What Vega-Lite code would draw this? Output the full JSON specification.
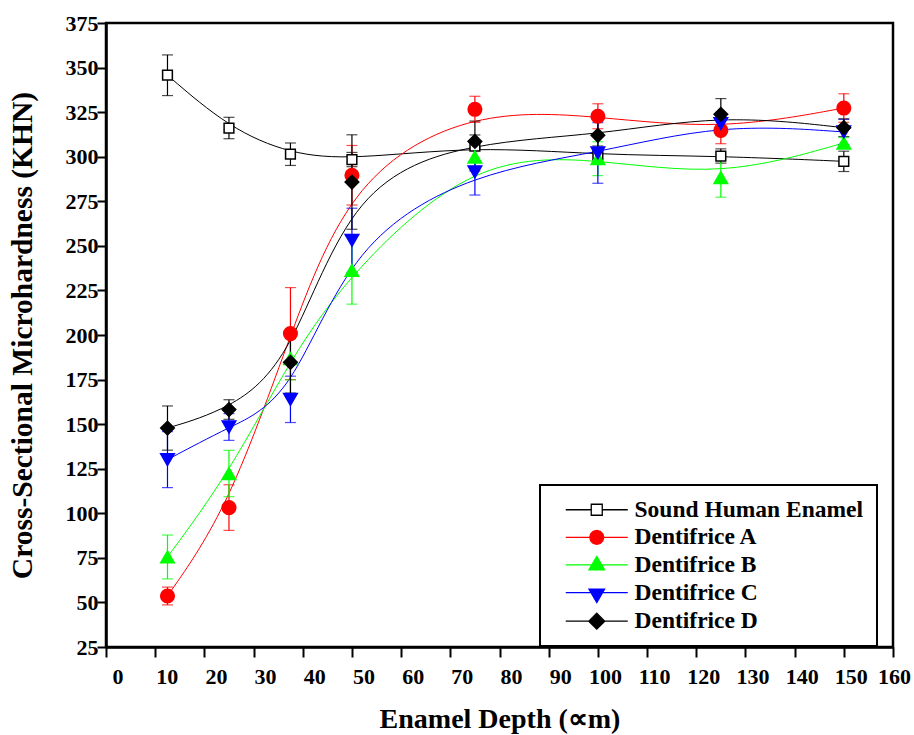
{
  "$schema": "https://vega.github.io/schema/vega-lite/v6.json",
  "width": 787,
  "height": 624,
  "autosize": "none",
  "padding": {"left": 106, "top": 23, "right": 21, "bottom": 88},
  "background": "white",
  "config": {
    "font": "Liberation Serif",
    "view": {"stroke": "black", "strokeWidth": 2.5},
    "legend": {"strokeWidth": 2},
    "axis": {
      "grid": false,
      "domainColor": "black",
      "domainWidth": 2.5,
      "tickColor": "black",
      "tickWidth": 2,
      "labelColor": "black",
      "labelFont": "Liberation Serif",
      "labelFontWeight": "bold",
      "titleFont": "Liberation Serif",
      "titleFontWeight": "bold",
      "titleColor": "black",
      "labelFlush": false,
      "labelOverlap": false
    }
  },
  "data": {
    "values": [
      {"depth": 12.5, "series": "Sound Human Enamel", "khn": 345.7, "sd": 11.4},
      {"depth": 25, "series": "Sound Human Enamel", "khn": 316.1, "sd": 6},
      {"depth": 37.5, "series": "Sound Human Enamel", "khn": 301.4, "sd": 6.3},
      {"depth": 50, "series": "Sound Human Enamel", "khn": 298.4, "sd": 4},
      {"depth": 75, "series": "Sound Human Enamel", "khn": 306, "sd": 14},
      {"depth": 100, "series": "Sound Human Enamel", "khn": 301, "sd": 5},
      {"depth": 125, "series": "Sound Human Enamel", "khn": 300.4, "sd": 4},
      {"depth": 150, "series": "Sound Human Enamel", "khn": 297.4, "sd": 5.7},
      {"depth": 12.5, "series": "Dentifrice A", "khn": 53.6, "sd": 5},
      {"depth": 25, "series": "Dentifrice A", "khn": 103.2, "sd": 12.8},
      {"depth": 37.5, "series": "Dentifrice A", "khn": 200.8, "sd": 25.8},
      {"depth": 50, "series": "Dentifrice A", "khn": 289.6, "sd": 16.7},
      {"depth": 75, "series": "Dentifrice A", "khn": 326.6, "sd": 7.3},
      {"depth": 100, "series": "Dentifrice A", "khn": 322.7, "sd": 7},
      {"depth": 125, "series": "Dentifrice A", "khn": 314.8, "sd": 7.5},
      {"depth": 150, "series": "Dentifrice A", "khn": 327.3, "sd": 8},
      {"depth": 12.5, "series": "Dentifrice B", "khn": 75.5, "sd": 12.3},
      {"depth": 25, "series": "Dentifrice B", "khn": 122.3, "sd": 13},
      {"depth": 37.5, "series": "Dentifrice B", "khn": 186.8, "sd": 12},
      {"depth": 50, "series": "Dentifrice B", "khn": 236.3, "sd": 19},
      {"depth": 75, "series": "Dentifrice B", "khn": 299.8, "sd": 5},
      {"depth": 100, "series": "Dentifrice B", "khn": 298.9, "sd": 9.5},
      {"depth": 125, "series": "Dentifrice B", "khn": 288.3, "sd": 11},
      {"depth": 150, "series": "Dentifrice B", "khn": 307.7, "sd": 3},
      {"depth": 12.5, "series": "Dentifrice C", "khn": 130.1, "sd": 15.7},
      {"depth": 25, "series": "Dentifrice C", "khn": 148.4, "sd": 7.5},
      {"depth": 37.5, "series": "Dentifrice C", "khn": 163.9, "sd": 13},
      {"depth": 50, "series": "Dentifrice C", "khn": 253.1, "sd": 18},
      {"depth": 75, "series": "Dentifrice C", "khn": 291.5, "sd": 13},
      {"depth": 100, "series": "Dentifrice C", "khn": 302.1, "sd": 17},
      {"depth": 125, "series": "Dentifrice C", "khn": 318.6, "sd": 5},
      {"depth": 150, "series": "Dentifrice C", "khn": 313.9, "sd": 7},
      {"depth": 12.5, "series": "Dentifrice D", "khn": 147.8, "sd": 12.4},
      {"depth": 25, "series": "Dentifrice D", "khn": 158.2, "sd": 5.5},
      {"depth": 37.5, "series": "Dentifrice D", "khn": 184.7, "sd": 17.3},
      {"depth": 50, "series": "Dentifrice D", "khn": 285.8, "sd": 26.5},
      {"depth": 75, "series": "Dentifrice D", "khn": 308.6, "sd": 3.6},
      {"depth": 100, "series": "Dentifrice D", "khn": 312, "sd": 10},
      {"depth": 125, "series": "Dentifrice D", "khn": 323.8, "sd": 8.8},
      {"depth": 150, "series": "Dentifrice D", "khn": 316.3, "sd": 5}
    ]
  },
  "encoding": {
    "x": {
      "field": "depth",
      "type": "quantitative",
      "scale": {"domain": [0, 160], "nice": false},
      "axis": {
        "values": [0, 10, 20, 30, 40, 50, 60, 70, 80, 90, 100, 110, 120, 130, 140, 150, 160],
        "title": "Enamel Depth (∝m)",
        "labelFontSize": 22,
        "tickSize": 10,
        "labelPadding": 9,
        "titleFontSize": 28,
        "titlePadding": 18,
        "labelOffset": {
          "condition": [
            {"test": "datum.value < 95", "value": 11.5},
            {"test": "datum.value == 160", "value": 1}
          ],
          "value": 7
        }
      }
    },
    "y": {
      "field": "khn",
      "type": "quantitative",
      "scale": {"domain": [25, 375], "nice": false, "zero": false},
      "axis": {
        "values": [25, 50, 75, 100, 125, 150, 175, 200, 225, 250, 275, 300, 325, 350, 375],
        "title": "Cross-Sectional Microhardness (KHN)",
        "labelFontSize": 22,
        "tickSize": 9,
        "labelPadding": -1,
        "titleFontSize": 29.5,
        "titlePadding": 28
      }
    }
  },
  "layer": [
    {
      "mark": {"type": "line", "interpolate": "basis", "strokeWidth": 1},
      "encoding": {
        "stroke": {
          "field": "series",
          "type": "nominal",
          "scale": {
            "domain": ["Sound Human Enamel", "Dentifrice A", "Dentifrice B", "Dentifrice C", "Dentifrice D"],
            "range": ["black", "#ff0000", "#00ff00", "#0000ff", "black"]
          },
          "legend": {
            "title": null,
            "orient": "none",
            "legendX": 434,
            "legendY": 462,
            "strokeColor": "black",
            "padding": 13,
            "rowPadding": 2.6,
            "symbolSize": 400,
            "symbolStrokeWidth": 1.3,
            "symbolOffset": 32,
            "labelOffset": 26,
            "labelLimit": 500,
            "labelFont": "Liberation Serif",
            "labelFontSize": 23.5,
            "labelFontWeight": "bold",
            "labelColor": "black",
            "encode": {
              "symbols": {
                "update": {
                  "shape": {"signal": "datum.value === 'Sound Human Enamel' ? 'M-3.1,0H-0.55M0.55,0H3.1M-0.55,-0.55H0.55V0.55H-0.55Z' : datum.value === 'Dentifrice A' ? 'M-3.1,0H3.1M0.7,0L0.606,0.35L0.35,0.606L0,0.7L-0.35,0.606L-0.606,0.35L-0.7,0L-0.606,-0.35L-0.35,-0.606L0,-0.7L0.35,-0.606L0.606,-0.35Z' : datum.value === 'Dentifrice B' ? 'M-3.1,0H3.1M0,-0.85L0.78,0.5L-0.78,0.5Z' : datum.value === 'Dentifrice C' ? 'M-3.1,0H3.1M0,1.0L0.78,-0.35L-0.78,-0.35Z' : 'M-3.1,0H3.1M0,-0.8L0.8,0L0,0.8L-0.8,0Z'"},
                  "fill": {"signal": "datum.value === 'Sound Human Enamel' ? 'white' : scale('stroke', datum.value)"},
                  "strokeWidth": {"value": 1.3},
                  "opacity": {"value": 1}
                }
              }
            }
          }
        }
      }
    },
    {
      "mark": {"type": "errorbar", "ticks": true, "size": 11, "thickness": 1.2},
      "encoding": {
        "yError": {"field": "sd"},
        "color": {
          "condition": [
            {"test": "datum.series === 'Dentifrice A'", "value": "#ff0000"},
            {"test": "datum.series === 'Dentifrice B'", "value": "#00ff00"},
            {"test": "datum.series === 'Dentifrice C'", "value": "#0000ff"}
          ],
          "value": "black"
        }
      }
    },
    {
      "mark": {"type": "point", "filled": true, "strokeWidth": 1.5, "opacity": 1},
      "encoding": {
        "shape": {
          "condition": [
            {"test": "datum.series === 'Sound Human Enamel'", "value": "square"},
            {"test": "datum.series === 'Dentifrice A'", "value": "circle"},
            {"test": "datum.series === 'Dentifrice B'", "value": "triangle-up"},
            {"test": "datum.series === 'Dentifrice C'", "value": "triangle-down"}
          ],
          "value": "diamond"
        },
        "fill": {
          "condition": [
            {"test": "datum.series === 'Sound Human Enamel'", "value": "white"},
            {"test": "datum.series === 'Dentifrice A'", "value": "#ff0000"},
            {"test": "datum.series === 'Dentifrice B'", "value": "#00ff00"},
            {"test": "datum.series === 'Dentifrice C'", "value": "#0000ff"}
          ],
          "value": "black"
        },
        "stroke": {
          "condition": [
            {"test": "datum.series === 'Dentifrice A'", "value": "#ff0000"},
            {"test": "datum.series === 'Dentifrice B'", "value": "#00ff00"},
            {"test": "datum.series === 'Dentifrice C'", "value": "#0000ff"}
          ],
          "value": "black"
        },
        "size": {
          "condition": {"test": "datum.series === 'Sound Human Enamel'", "value": 95},
          "value": 185
        }
      }
    }
  ]
}
